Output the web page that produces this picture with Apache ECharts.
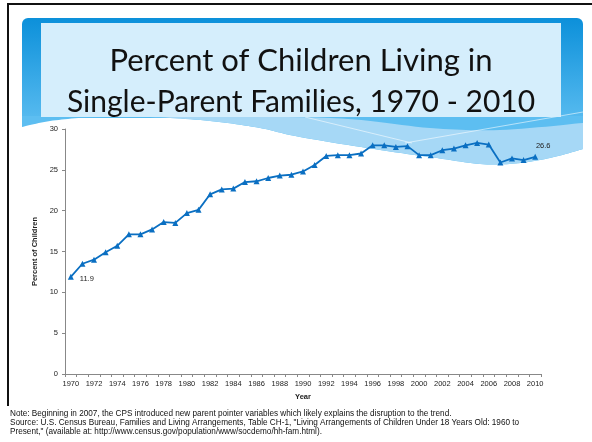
<!DOCTYPE html>
<html>
<head>
<meta charset="utf-8">
<script src="https://cdn.jsdelivr.net/npm/echarts/dist/echarts.min.js"></script>
<style>
  html, body { margin: 0; padding: 0; background: #fff; }
  #chart { width: 592px; height: 442px; }
</style>
</head>
<body>
<div id="chart"></div>
<script>
const years = ["1970", "1971", "1972", "1973", "1974", "1975", "1976", "1977", "1978", "1979",
  "1980", "1981", "1982", "1983", "1984", "1985", "1986", "1987", "1988", "1989",
  "1990", "1991", "1992", "1993", "1994", "1995", "1996", "1997", "1998", "1999",
  "2000", "2001", "2002", "2003", "2004", "2005", "2006", "2007", "2008", "2009", "2010"];
const percentSingleParent = [11.9, 13.5, 14.0, 14.9, 15.7, 17.1, 17.1, 17.7, 18.6, 18.5,
  19.7, 20.1, 22.0, 22.6, 22.7, 23.5, 23.6, 24.0, 24.3, 24.4,
  24.8, 25.6, 26.7, 26.8, 26.8, 27.0, 28.0, 28.0, 27.8, 27.9,
  26.8, 26.8, 27.4, 27.6, 28.0, 28.3, 28.1, 25.9, 26.4, 26.2, 26.6];
const yTicks = { min: 0, max: 30, interval: 5 };

const titleLines = ["Percent of Children Living in", "Single-Parent Families, 1970 - 2010"];
const notes = [
  "Note: Beginning in 2007, the CPS introduced new parent pointer variables which likely explains the disruption to the trend.",
  "Source: U.S. Census Bureau, Families and Living Arrangements, Table CH-1, \"Living Arrangements of Children Under 18 Years Old: 1960 to",
  "Present,\" (available at: http://www.census.gov/population/www/socdemo/hh-fam.html)."
];

// wave decoration behind the plot
const waveEdge = [[22, 127], [50, 121], [90, 117.5], [150, 117], [210, 121], [260, 128], [300, 137],
  [380, 150], [430, 157], [480, 164], [515, 163.5], [550, 158], [583, 149]];
const stripEdge = [[150, 117], [330, 118], [430, 128], [500, 130], [583, 123]];

// catmull-rom sampling so the wave edges come out smooth
function sampleCurve(pts, steps) {
  const out = [];
  for (let i = 0; i < pts.length - 1; i++) {
    const p0 = pts[Math.max(i - 1, 0)], p1 = pts[i], p2 = pts[i + 1], p3 = pts[Math.min(i + 2, pts.length - 1)];
    for (let s = 0; s < steps; s++) {
      const t = s / steps, t2 = t * t, t3 = t2 * t;
      const f = (a, b, c, d) => 0.5 * (2 * b + (-a + c) * t + (2 * a - 5 * b + 4 * c - d) * t2 + (-a + 3 * b - 3 * c + d) * t3);
      out.push([f(p0[0], p1[0], p2[0], p3[0]), f(p0[1], p1[1], p2[1], p3[1])]);
    }
  }
  out.push(pts[pts.length - 1]);
  return out;
}

const waveCurve = sampleCurve(waveEdge, 12);
const stripCurve = sampleCurve(stripEdge, 12);

const chart = echarts.init(document.getElementById("chart"), null, { renderer: "canvas" });

const lastIdx = percentSingleParent.length - 1;
const seriesData = percentSingleParent.map((v, i) => {
  if (i === 0) {
    return { value: v, label: { show: true, position: "right", offset: [1, 2] } };
  }
  if (i === lastIdx) {
    return { value: v, label: { show: true, position: "top", offset: [8, 1] } };
  }
  return v;
});

const option = {
  animation: false,
  textStyle: { fontFamily: "Liberation Sans" },
  graphic: [
    // frame lines
    { type: "rect", z: -20, shape: { x: 7, y: 3, width: 585, height: 2 }, style: { fill: "#111" } },
    { type: "rect", z: -20, shape: { x: 7, y: 3, width: 2, height: 403 }, style: { fill: "#111" } },
    // blue band
    {
      type: "rect", z: -20,
      shape: { x: 22, y: 18, width: 561, height: 100, r: [6, 6, 0, 0] },
      style: {
        fill: new echarts.graphic.LinearGradient(0, 0, 0, 1, [
          { offset: 0, color: "#0c90da" },
          { offset: 1, color: "#56baef" }
        ])
      }
    },
    {
      type: "polygon", z: -19,
      shape: { points: [[22, 116]].concat(waveCurve, [[583, 116]]) },
      style: { fill: "#5dbef1" }
    },
    {
      type: "polygon", z: -18,
      shape: { points: stripCurve.concat(waveCurve.filter(p => p[0] >= 150).reverse()) },
      style: { fill: "#a6d8f6" }
    },
    {
      type: "polyline", z: -17,
      shape: { points: [[305, 117], [412, 143]] },
      style: { stroke: "rgba(255,255,255,0.7)", lineWidth: 0.8 }
    },
    {
      type: "polyline", z: -17,
      shape: { points: [[405, 143], [583, 112]] },
      style: { stroke: "rgba(255,255,255,0.7)", lineWidth: 0.8 }
    },
    // light title box
    { type: "rect", z: -16, shape: { x: 41, y: 23, width: 520, height: 94 }, style: { fill: "#d5eefc" } },
    {
      type: "text", z: 5, x: 301, y: 76,
      style: { text: titleLines[0], font: "31px Lato", fill: "#111", textAlign: "center", textVerticalAlign: "bottom" }
    },
    {
      type: "text", z: 5, x: 301, y: 117,
      style: { text: titleLines[1], font: "30px Lato", fill: "#111", textAlign: "center", textVerticalAlign: "bottom" }
    },
    // footnotes
    {
      type: "text", z: 5, x: 10, y: 409,
      style: { text: notes.join("\n"), font: "8.2px Liberation Sans", fill: "#111", lineHeight: 9 }
    }
  ],
  grid: { left: 65, right: 51, top: 129, bottom: 68, containLabel: false },
  xAxis: {
    type: "category",
    data: years,
    boundaryGap: true,
    name: "Year",
    nameLocation: "middle",
    nameGap: 15,
    nameTextStyle: { fontSize: 7.5, fontWeight: "bold", color: "#222" },
    axisLine: { lineStyle: { color: "#888", width: 1 } },
    axisTick: { show: true, interval: 0, length: 3, lineStyle: { color: "#888" } },
    axisLabel: { interval: 1, fontSize: 7.5, color: "#222", margin: 6 }
  },
  yAxis: {
    type: "value",
    min: yTicks.min,
    max: yTicks.max,
    interval: yTicks.interval,
    name: "Percent of Children",
    nameLocation: "middle",
    nameGap: 14,
    nameTextStyle: { fontSize: 7.5, fontWeight: "bold", color: "#222" },
    axisLine: { show: true, lineStyle: { color: "#888", width: 1 } },
    axisTick: { show: true, length: 3, lineStyle: { color: "#888" } },
    axisLabel: { fontSize: 7.5, color: "#222", margin: 7 },
    splitLine: { show: false }
  },
  series: [
    {
      type: "line",
      data: seriesData,
      symbol: "triangle",
      symbolSize: 6,
      itemStyle: { color: "#0a6fc2" },
      lineStyle: { color: "#0a6fc2", width: 1.8 },
      label: { show: false, fontSize: 7.5, color: "#222" },
      z: 3
    }
  ]
};

chart.setOption(option);
</script>
</body>
</html>
